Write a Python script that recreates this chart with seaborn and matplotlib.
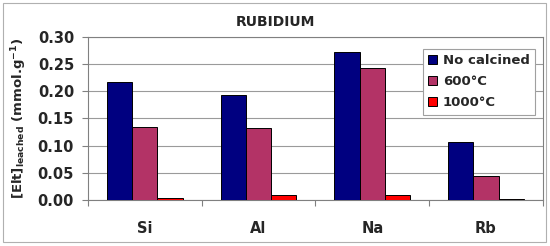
import matplotlib
matplotlib.use("Agg")
import matplotlib.pyplot as plt
import numpy as np
import pandas as pd
import seaborn as sns
from matplotlib.patches import Rectangle

elements = ["Si", "Al", "Na", "Rb"]
treatments = ["No calcined", "600°C", "1000°C"]
no_calcined = [0.217, 0.193, 0.273, 0.107]
t600 = [0.134, 0.132, 0.242, 0.044]
t1000 = [0.004, 0.009, 0.009, 0.002]
colors = ["#000080", "#B33366", "#FF0000"]


def main():
    df = pd.DataFrame({
        "element": elements * 3,
        "treatment": np.repeat(treatments, len(elements)),
        "value": no_calcined + t600 + t1000,
    })

    sns.set_style("white")
    plt.rcParams["font.family"] = ["DejaVu Sans"]
    plt.rcParams["mathtext.default"] = "regular"

    fig = plt.figure(figsize=(5.5, 2.46), dpi=100)
    ax = fig.add_axes([0.16, 0.187, 0.827, 0.663])

    sns.barplot(
        data=df, x="element", y="value", hue="treatment",
        order=elements, hue_order=treatments, palette=colors,
        width=0.667, gap=0, edgecolor="black", linewidth=0.7,
        saturation=1, ax=ax, zorder=3,
    )

    ax.set_ylim(0, 0.30)
    ax.set_yticks(np.arange(0, 0.301, 0.05))
    ax.set_yticklabels([f"{v:.2f}" for v in np.arange(0, 0.301, 0.05)],
                       fontweight="bold", fontsize=10.5)
    ax.set_xlim(-0.5, 3.5)
    ax.set_xticks(range(len(elements)))
    ax.set_xticklabels(elements, fontweight="bold", fontsize=10.5)
    ax.set_xticks(np.arange(-0.5, 3.6, 1), minor=True)
    ax.tick_params(axis="x", which="major", length=0, pad=15)
    ax.tick_params(axis="x", which="minor", length=4, width=0.8,
                   color="#808080", direction="out", bottom=True)
    ax.tick_params(axis="y", length=4, width=0.8, color="#808080",
                   direction="out", left=True, pad=6)

    ax.grid(axis="y", color="#9a9a9a", linewidth=0.8, zorder=0)
    ax.set_axisbelow(True)
    for s in ax.spines.values():
        s.set_color("#808080")
        s.set_linewidth(0.8)

    ax.set_xlabel("")
    ax.set_ylabel(r"[Elt]$_{leached}$ (mmol.g$^{-1}$)",
                  fontweight="bold", fontsize=9.5, labelpad=6)

    leg = ax.legend(loc="upper right", bbox_to_anchor=(0.997, 0.965),
                    frameon=True, fancybox=False, framealpha=1,
                    edgecolor="#a0a0a0", handlelength=0.7, handleheight=0.7,
                    handletextpad=0.4, labelspacing=0.6, borderpad=0.4,
                    prop={"weight": "bold", "size": 9.5})
    leg.get_frame().set_linewidth(0.8)

    fig.text(0.5, 0.912, "RUBIDIUM", ha="center", va="center",
             fontweight="bold", fontsize=10)

    fig.patches.append(Rectangle((3 / 550, 4 / 246), 543 / 550, 239 / 246,
                                 transform=fig.transFigure, fill=False,
                                 edgecolor="#b0b0b0", linewidth=0.8))

    fig.savefig("out.png", dpi=100)
    plt.close(fig)


if __name__ == "__main__":
    main()
